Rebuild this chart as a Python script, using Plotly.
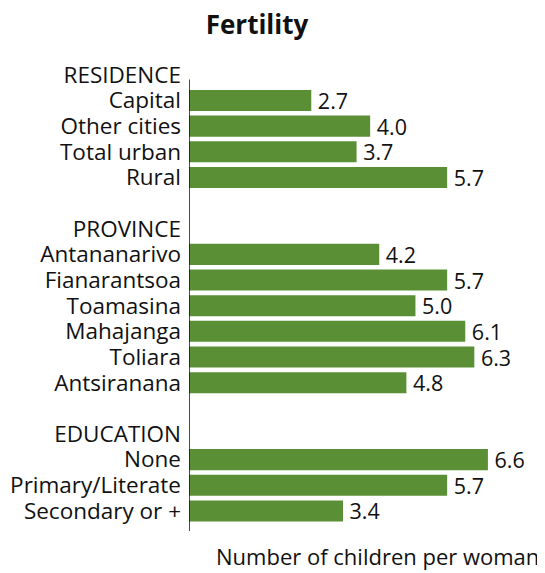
import plotly.graph_objects as go

categories = ["RESIDENCE", "Capital", "Other cities", "Total urban", "Rural", "",
              "PROVINCE", "Antananarivo", "Fianarantsoa", "Toamasina", "Mahajanga",
              "Toliara", "Antsiranana", " ",
              "EDUCATION", "None", "Primary/Literate", "Secondary or +"]
values = [None, 2.7, 4.0, 3.7, 5.7, None,
          None, 4.2, 5.7, 5.0, 6.1, 6.3, 4.8, None,
          None, 6.6, 5.7, 3.4]

positions = list(range(len(categories)))
bar_y = [p for p, v in zip(positions, values) if v is not None]
bar_x = [v for v in values if v is not None]
bar_text = ["\u2009" + f"{v:.1f}" for v in bar_x]

FONT = "Open Sans"
GREEN = "#5b8f35"
TXT = "#111111"

# page body has an 8px default margin: figure drawn 8px smaller, offsets compensated
W, H = 537, 565
L, R, T, B = 181, 5, 54, 39
plot_h = H - T - B

fig = go.Figure(go.Bar(
    x=bar_x, y=bar_y, orientation="h",
    marker=dict(color=GREEN, line=dict(width=0)),
    text=bar_text, textposition="outside", cliponaxis=False,
    constraintext="none",
    textfont=dict(family=FONT, size=21.5, color=TXT),
    width=0.82,
))

fig.add_shape(type="line", xref="x", yref="y", x0=0, x1=0, y0=0.18, y1=17.78,
              line=dict(color=TXT, width=1.5))

fig.update_layout(
    width=W, height=H,
    margin=dict(l=L, r=R, t=T, b=B, autoexpand=False),
    paper_bgcolor="white", plot_bgcolor="white",
    showlegend=False,
    title=dict(text="<b>Fertility</b>", x=(257 - 8) / W, xanchor="center",
               y=1 - 17 / H, yanchor="middle",
               font=dict(family=FONT, size=26, color=TXT)),
    xaxis=dict(range=[0, 7.75], showgrid=False, zeroline=False, showline=False,
               showticklabels=False, ticks="", fixedrange=True, automargin=False),
    yaxis=dict(range=[17.9, -0.5], tickvals=positions, ticktext=categories,
               showgrid=False, zeroline=False, showline=False, ticks="",
               ticklabelstandoff=7, automargin=False,
               tickfont=dict(family=FONT, size=22.5, color=TXT)),
    annotations=[dict(text="Number of children per woman", xref="paper", yref="paper",
                      x=1.0, y=-(548 - (H - B)) / plot_h, xanchor="right", yanchor="middle",
                      xshift=1, showarrow=False,
                      font=dict(family=FONT, size=22, color=TXT))],
)

fig.write_html("out.html")
